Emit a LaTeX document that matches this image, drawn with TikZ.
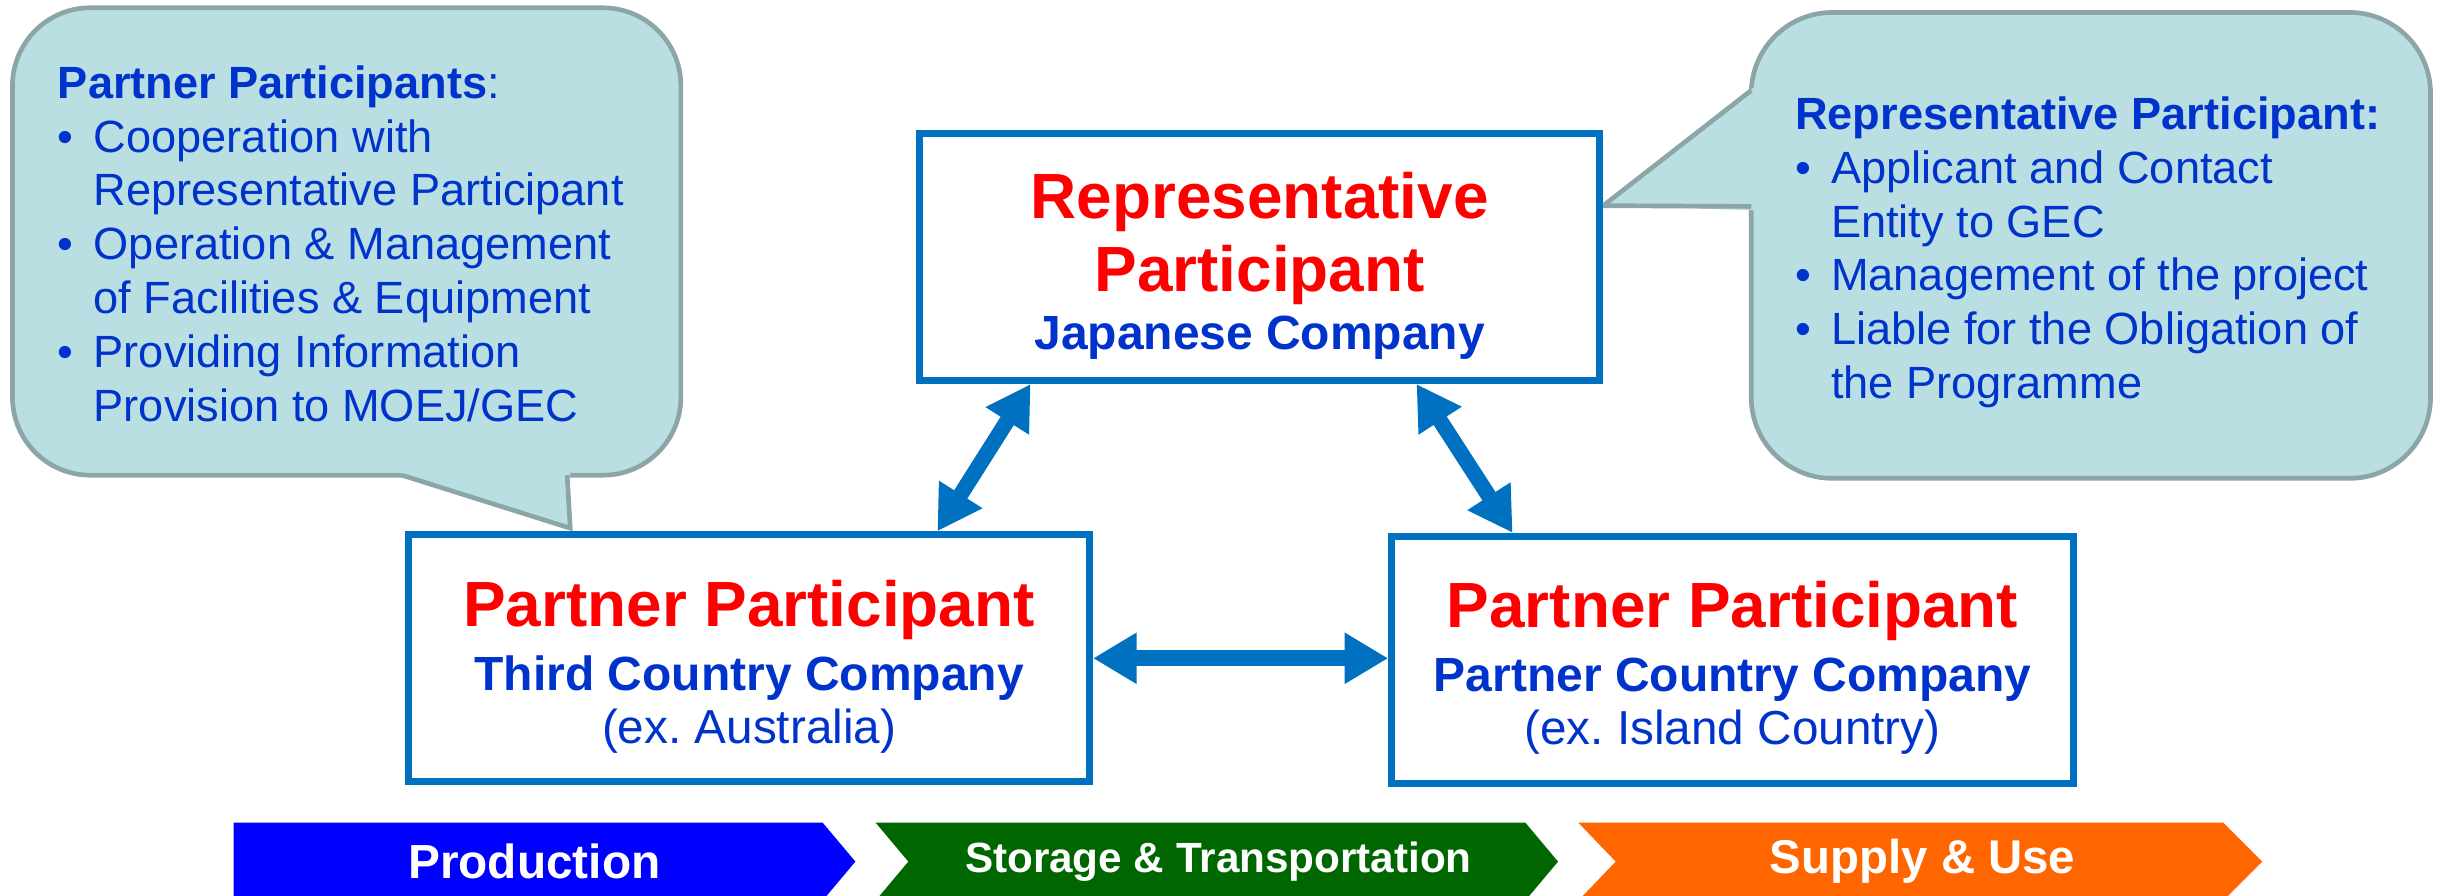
\documentclass[tikz,border=0pt]{standalone}
\usepackage{fontspec}
\setmainfont{Liberation Sans}
\usetikzlibrary{positioning,arrows.meta}

\definecolor{boxblue}{HTML}{0070C0}
\definecolor{txtblue}{HTML}{0033CC}
\definecolor{bubfill}{HTML}{BADFE2}
\definecolor{bubline}{HTML}{8CA6A8}
\definecolor{prodblue}{HTML}{0000FF}
\definecolor{storgreen}{HTML}{006600}
\definecolor{supporange}{HTML}{FF6600}

\newcommand{\bul}{\makebox[23pt][l]{\textbullet}}
\newcommand{\ind}{\hspace*{23pt}}
\frenchspacing

\begin{document}
\begin{tikzpicture}[x=1pt,y=-1pt]
		\tikzstyle{every node}+=[inner sep=0pt]
		\tikzstyle{pbox}=[draw=boxblue, line width=4.5pt, fill=white, rectangle]
		\tikzstyle{redtxt}=[anchor=base, text=red, font=\fontsize{41}{47}\selectfont\bfseries]
		\tikzstyle{bluetxt}=[anchor=base, text=txtblue, font=\fontsize{30.8}{36}\selectfont\bfseries]
		\tikzstyle{extxt}=[anchor=base, text=txtblue, font=\fontsize{30.6}{36}\selectfont]
		\tikzstyle{bubble}=[fill=bubfill, draw=bubline, line width=3pt]
		\tikzstyle{bubtxt}=[anchor=north west, align=left, text=txtblue, font=\fontsize{29}{34.5}\selectfont]
		\tikzstyle{link}=[draw=boxblue, line width=10pt, {Triangle[width=31pt,length=28pt]}-{Triangle[width=31pt,length=28pt]}]
		\tikzstyle{stagetxt}=[text=white, font=\bfseries]
		\useasboundingbox (0,0) rectangle (1568,575);
		% speech bubbles
		\filldraw [bubble, rounded corners=50pt] (8,5) rectangle (437,305);
		\fill [bubfill] (252,302) -- (366,302) -- (366,339) -- cycle;
		\draw [bubline, line width=3pt] (258,305) -- (366,339) -- (364,305);
		\filldraw [bubble, rounded corners=52pt] (1124,8) rectangle (1560,307);
		\fill [bubfill] (1127,55) -- (1029,132) -- (1127,135) -- cycle;
		\draw [bubline, line width=3pt] (1124,58) -- (1029,132) -- (1124,132.5);
		\node [bubtxt] (ppnote) at (37,42) {\textbf{Partner Participants}:\\
			\bul Cooperation with\\ \ind Representative Participant\\
			\bul Operation \& Management\\ \ind of Facilities \& Equipment\\
			\bul Providing Information\\ \ind Provision to MOEJ/GEC};
		\node [bubtxt] (rpnote) at (1152,62) {\textbf{Representative Participant:}\\
			\bul Applicant and Contact\\ \ind Entity to GEC\\
			\bul Management of the project\\
			\bul Liable for the Obligation of\\ \ind the Programme};
		% participants
		\node [pbox, minimum width=436.5pt, minimum height=158.5pt] (rep) at (808.5,165) {};
		\node [redtxt] (reptitle) at (808.5,140) {Representative};
		\node [redtxt] (reptitleb) at (808.5,187) {Participant};
		\node [bluetxt] (repcomp) at (808.5,224) {Japanese Company};
		\node [pbox, minimum width=437pt, minimum height=158.5pt] (pthird) at (480.8,422.5) {};
		\node [redtxt] (thirdtitle) at (480.8,402) {Partner Participant};
		\node [bluetxt] (thirdcomp) at (480.8,443) {Third Country Company};
		\node [extxt] (thirdex) at (480.8,477) {(ex. Australia)};
		\node [pbox, minimum width=437.5pt, minimum height=158.5pt] (ppartner) at (1112,423.5) {};
		\node [redtxt] (partnertitle) at (1112,403) {Partner Participant};
		\node [bluetxt] (partnercomp) at (1112,444) {Partner Country Company};
		\node [extxt] (partnerex) at (1112,478) {(ex. Island Country)};
		% links
		\draw [link] (rep.209) -- (pthird.34.5);
		\draw [link] (rep.321.3) -- (ppartner.150.1);
		\draw [link] (pthird.east) -- (pthird.east -| ppartner.west);
		% value chain
		\fill [prodblue] (150,528) -- (528,528) -- (549,553) -- (528,578) -- (150,578) -- cycle;
		\fill [storgreen] (562,528) -- (979,528) -- (1000,553) -- (979,578) -- (562,578) -- (583,553) -- cycle;
		\fill [supporange] (1013,528) -- (1427,528) -- (1452,553) -- (1427,578) -- (1013,578) -- (1037,553) -- cycle;
		\node [stagetxt, font=\fontsize{30.7}{36}\selectfont\bfseries] (prod) at (343,553) {Production};
		\node [stagetxt, font=\fontsize{27.1}{32}\selectfont\bfseries] (stor) at (782,553) {Storage \& Transportation};
		\node [stagetxt, font=\fontsize{30.4}{36}\selectfont\bfseries] (supp) at (1234,553) {Supply \& Use};
\end{tikzpicture}
\end{document}
